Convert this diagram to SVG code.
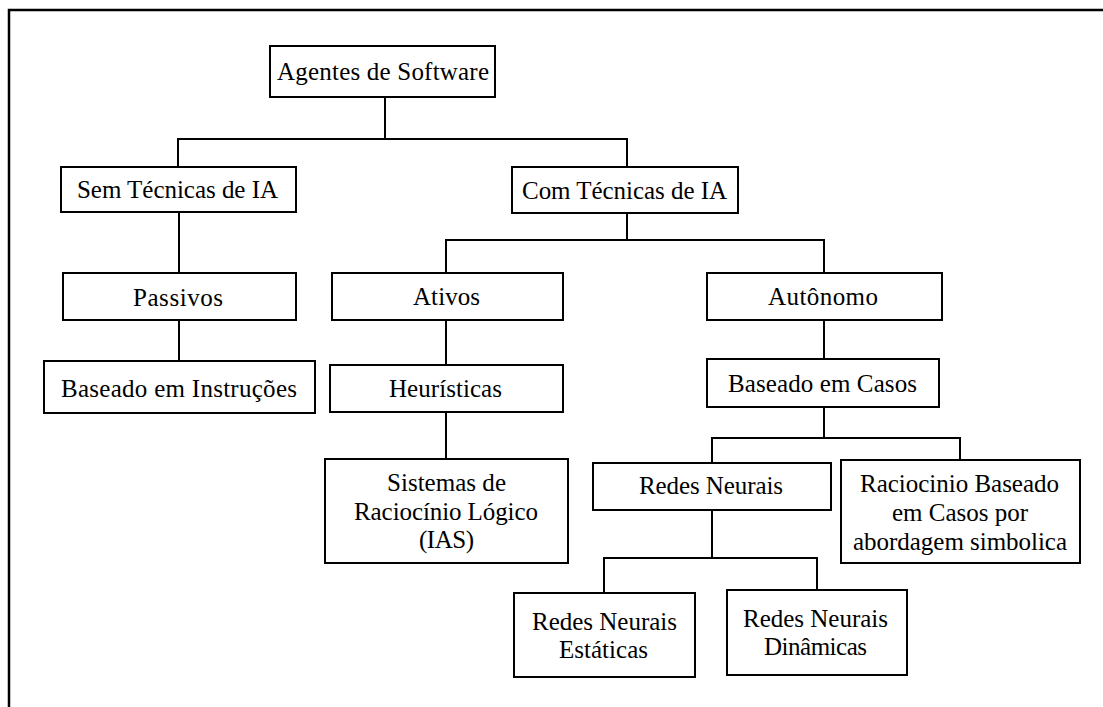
<svg xmlns="http://www.w3.org/2000/svg" width="1103" height="707" viewBox="0 0 1103 707">
  <style>
    .box { fill: #ffffff; stroke: #000000; stroke-width: 2; }
    .lbl { font-family: "Liberation Serif", "Times New Roman", serif; font-size: 25px; fill: #000000; text-anchor: middle; }
    .wire { fill: none; stroke: #000000; stroke-width: 2; }
    .frame { fill: none; stroke: #000000; stroke-width: 2.5; }
  </style>
  <rect width="1103" height="707" fill="#ffffff"/>
  <!-- outer frame, open towards the right and bottom edges -->
  <rect class="frame" x="9" y="10" width="1200" height="800"/>

  <g id="connectors">
    <path class="wire" d="M385 97 V139 M178 167 V139 H627 V167"/>
    <path class="wire" d="M179 212 V273"/>
    <path class="wire" d="M179 320 V361"/>
    <path class="wire" d="M627 213 V240 M446 273 V240 H824 V273"/>
    <path class="wire" d="M446 320 V365"/>
    <path class="wire" d="M446 412 V459"/>
    <path class="wire" d="M824 320 V359"/>
    <path class="wire" d="M824 407 V438 M712 463 V438 H960 V460"/>
    <path class="wire" d="M712 510 V558 M604 593 V558 H817 V590"/>
  </g>

  <g id="agentes">
    <rect class="box" x="270" y="46" width="225" height="51"/>
    <text class="lbl" x="383" y="80" textLength="212" lengthAdjust="spacing">Agentes de Software</text>
  </g>
  <g id="sem-tecnicas">
    <rect class="box" x="61" y="167" width="235" height="45"/>
    <text class="lbl" x="177.5" y="198" textLength="201" lengthAdjust="spacing">Sem Técnicas de IA</text>
  </g>
  <g id="com-tecnicas">
    <rect class="box" x="512" y="167" width="226" height="46"/>
    <text class="lbl" x="624.5" y="199" textLength="205" lengthAdjust="spacing">Com Técnicas de IA</text>
  </g>
  <g id="passivos">
    <rect class="box" x="63" y="273" width="233" height="47"/>
    <text class="lbl" x="178" y="306" textLength="90" lengthAdjust="spacing">Passivos</text>
  </g>
  <g id="ativos">
    <rect class="box" x="332" y="273" width="231" height="47"/>
    <text class="lbl" x="446.5" y="305" textLength="67" lengthAdjust="spacing">Ativos</text>
  </g>
  <g id="autonomo">
    <rect class="box" x="707" y="273" width="235" height="47"/>
    <text class="lbl" x="823" y="305" textLength="110" lengthAdjust="spacing">Autônomo</text>
  </g>
  <g id="baseado-instrucoes">
    <rect class="box" x="44" y="361" width="271" height="52"/>
    <text class="lbl" x="179" y="397" textLength="236" lengthAdjust="spacing">Baseado em Instruções</text>
  </g>
  <g id="heuristicas">
    <rect class="box" x="330" y="365" width="233" height="47"/>
    <text class="lbl" x="445.5" y="397" textLength="113" lengthAdjust="spacing">Heurísticas</text>
  </g>
  <g id="baseado-casos">
    <rect class="box" x="707" y="359" width="232" height="48"/>
    <text class="lbl" x="822.5" y="392" textLength="189" lengthAdjust="spacing">Baseado em Casos</text>
  </g>
  <g id="sistemas-raciocinio">
    <rect class="box" x="325" y="459" width="243" height="104"/>
    <text class="lbl" x="446.5" y="491" textLength="119" lengthAdjust="spacing">Sistemas de</text>
    <text class="lbl" x="446" y="520" textLength="184" lengthAdjust="spacing">Raciocínio Lógico</text>
    <text class="lbl" x="446.5" y="548" textLength="55" lengthAdjust="spacing">(IAS)</text>
  </g>
  <g id="redes-neurais">
    <rect class="box" x="593" y="463" width="238" height="47"/>
    <text class="lbl" x="711" y="494" textLength="144" lengthAdjust="spacing">Redes Neurais</text>
  </g>
  <g id="raciocinio-baseado">
    <rect class="box" x="841" y="460" width="239" height="103"/>
    <text class="lbl" x="959.5" y="492" textLength="199" lengthAdjust="spacing">Raciocinio Baseado</text>
    <text class="lbl" x="960" y="521" textLength="136" lengthAdjust="spacing">em Casos por</text>
    <text class="lbl" x="960" y="550" textLength="214" lengthAdjust="spacing">abordagem simbolica</text>
  </g>
  <g id="redes-estaticas">
    <rect class="box" x="514" y="593" width="181" height="84"/>
    <text class="lbl" x="604.5" y="630" textLength="145" lengthAdjust="spacing">Redes Neurais</text>
    <text class="lbl" x="603.5" y="658" textLength="89" lengthAdjust="spacing">Estáticas</text>
  </g>
  <g id="redes-dinamicas">
    <rect class="box" x="727" y="590" width="180" height="85"/>
    <text class="lbl" x="815.5" y="627" textLength="145" lengthAdjust="spacing">Redes Neurais</text>
    <text class="lbl" x="815.5" y="655" textLength="103" lengthAdjust="spacing">Dinâmicas</text>
  </g>
</svg>
